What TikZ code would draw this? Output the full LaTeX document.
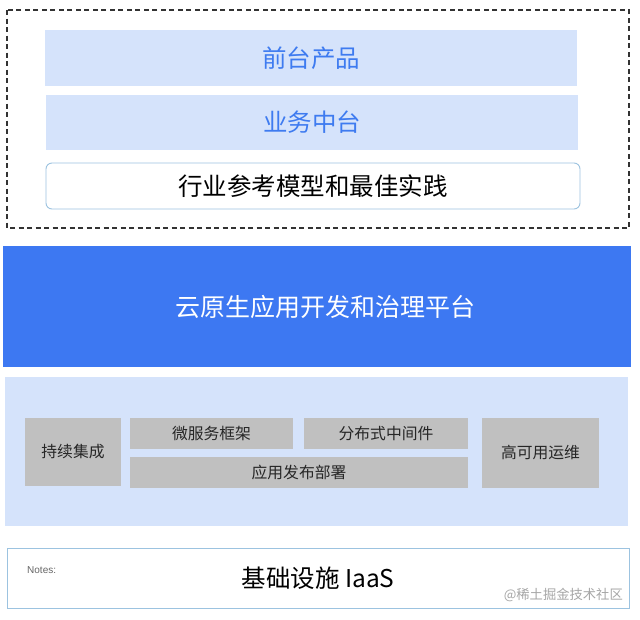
\documentclass[tikz,border=0pt]{standalone}
\usepackage{fontspec}
\setmainfont{Noto Sans CJK SC}
\newfontfamily\latinsans{Liberation Sans}
\definecolor{lightpanel}{HTML}{D5E3FB}
\definecolor{bluetext}{HTML}{3E7BF0}
\definecolor{bandblue}{HTML}{3D78F2}
\definecolor{grayblock}{HTML}{C0C0C0}
\definecolor{edgeblue}{HTML}{9CC3E0}
\tikzset{
  px/.style={x=1pt,y=-1pt},
  topbox/.style={fill=lightpanel, draw=none, text=bluetext, font=\fontsize{24.5}{26}\selectfont},
  graybox/.style={fill=grayblock, draw=none, text=black!85, font=\fontsize{15.8}{17}\selectfont},
  outlinebox/.style={draw=edgeblue, line width=0.9pt, fill=white},
}
\begin{document}
\begin{tikzpicture}[px]
\useasboundingbox (0,0) rectangle (640,619);
\fill[white] (0,0) rectangle (640,619);
% dashed container
\draw[line width=1.3pt, black!80, dash pattern=on 5pt off 3.5pt] (7,10) rectangle (629,228);
\node[topbox, minimum width=532pt, minimum height=56pt, inner sep=0pt] (front) at (311,58) {前台产品};
\node[topbox, minimum width=532pt, minimum height=55pt, inner sep=0pt] (biz) at (312,122.5) {业务中台};
\node[outlinebox, rounded corners=6pt, minimum width=534pt, minimum height=46pt, inner sep=0pt, font=\fontsize{24.5}{26}\selectfont] (ref) at (313,186) {行业参考模型和最佳实践};
% blue band
\node[fill=bandblue, draw=none, minimum width=628pt, minimum height=121pt, inner sep=0pt] (cloud) at (317,306.5) {};
\node[text=white, font=\fontsize{25}{27}\selectfont, inner sep=0pt] (cloudtext) at (325.5,306.5) {云原生应用开发和治理平台};
% light panel
\node[fill=lightpanel, draw=none, minimum width=623pt, minimum height=149pt, inner sep=0pt] (panel) at (316.5,451.5) {};
\node[graybox, minimum width=96pt, minimum height=68pt, inner sep=0pt] (ci) at (73,452) {持续集成};
\node[graybox, minimum width=163pt, minimum height=31pt, inner sep=0pt] (micro) at (211.5,433.5) {微服务框架};
\node[graybox, minimum width=164pt, minimum height=31pt, inner sep=0pt] (mid) at (386,433.5) {分布式中间件};
\node[graybox, minimum width=338pt, minimum height=31pt, inner sep=0pt] (deploy) at (299,472.5) {应用发布部署};
\node[graybox, minimum width=117pt, minimum height=70pt, inner sep=0pt] (ops) at (540.5,453) {高可用运维};
% bottom box
\node[outlinebox, line width=0.8pt, minimum width=622pt, minimum height=60pt, inner sep=0pt] (iaas) at (318,578) {};
\node[font=\fontsize{24.5}{26}\selectfont, inner sep=0pt] (iaastext) at (318,578) {基础设施 IaaS};
\node[font=\latinsans\fontsize{10}{11}\selectfont, text=black!60, anchor=west, inner sep=0pt] (notes) at (27,570) {Notes:};
\node[font=\fontsize{13.3}{15}\selectfont, text=black!35, anchor=east, inner sep=0pt] (wm) at (623,595) {@稀土掘金技术社区};
\end{tikzpicture}
\end{document}
